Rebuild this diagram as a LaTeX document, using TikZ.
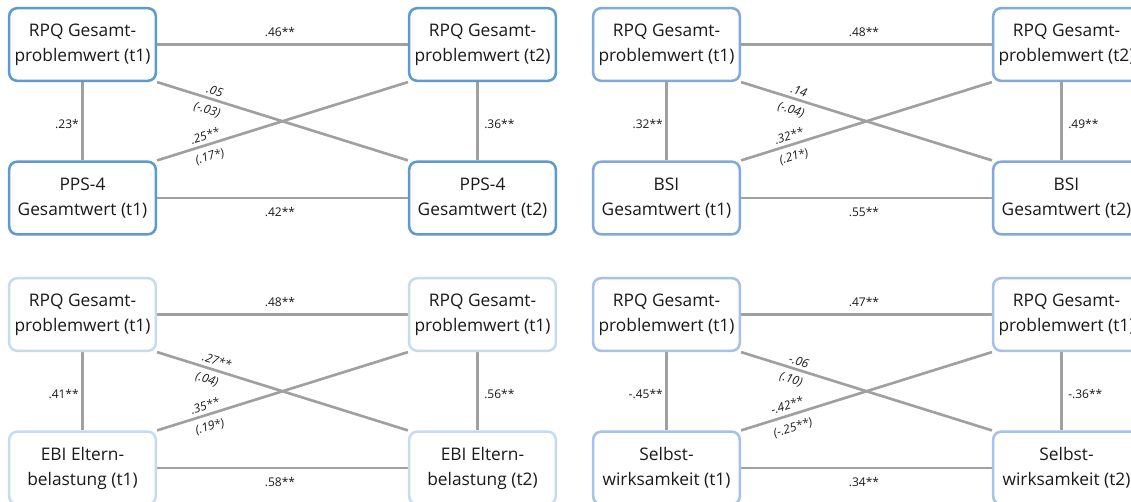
\documentclass[tikz,border=0pt]{standalone}
\usepackage{fontspec}
\setmainfont{Open Sans}
\usetikzlibrary{backgrounds}
\definecolor{bcA}{HTML}{5B9BD0}
\definecolor{bcB}{HTML}{80AADB}
\definecolor{bcC}{HTML}{C8DAF0}
\definecolor{bcD}{HTML}{A5C3E6}
\definecolor{conn}{HTML}{A0A0A0}
\definecolor{txt}{HTML}{1A1A1A}
\begin{document}
\begin{tikzpicture}[x=0.75pt,y=-0.75pt,
  box/.style={draw=#1, line width=1.9pt, rounded corners=6pt, fill=white,
    minimum width=110pt, minimum height=54.5pt, inner sep=0pt, align=center,
    text=txt, font=\fontsize{13}{18.75}\selectfont},
  connline/.style={draw=conn, line width=2pt},
  lab/.style={inner sep=0pt, text=txt, font=\fontsize{9}{10}\selectfont},
  dlab/.style={inner sep=0pt, text=txt, font=\fontsize{9}{10}\selectfont\itshape}]
\useasboundingbox (0,0) rectangle (1131,502);

% ---------- Panel 1 ----------
\begin{scope}
\node[box=bcA] (p1a) at (82.5,44.5) {RPQ Gesamt-\\problemwert (t1)};
\node[box=bcA] (p1b) at (482.5,44.5) {RPQ Gesamt-\\problemwert (t2)};
\node[box=bcA] (p1c) at (82.5,198) {PPS-4\\Gesamtwert (t1)};
\node[box=bcA] (p1d) at (482.5,198) {PPS-4\\Gesamtwert (t2)};
\begin{pgfonlayer}{background}
\draw[connline] (p1a) -- (p1b);
\draw[connline] (p1c) -- (p1d);
\draw[connline] (p1a.south) -- (p1c.north);
\draw[connline] ([xshift=-4pt]p1b.south) -- ([xshift=-4pt]p1d.north);
\draw[connline] (p1a.south east) -- (p1d.north west);
\draw[connline] (p1c.north east) -- (p1b.south west);
\end{pgfonlayer}
\node[lab] (p1l1) at (280,32) {.46**};
\node[lab] (p1l2) at (280,212) {.42**};
\node[lab,anchor=east] (p1l3) at (79,124) {.23*};
\node[lab,anchor=west] (p1l4) at (484,124) {.36**};
\node[dlab,rotate=-17.3] (p1l5) at (215,91) {.05};
\node[dlab,rotate=-17.3] (p1l6) at (207,110) {(-.03)};
\node[dlab,rotate=17.3] (p1l7) at (205,136) {.25**};
\node[dlab,rotate=17.3] (p1l8) at (210,157) {(.17*)};
\end{scope}

% ---------- Panel 2 ----------
\begin{scope}[shift={(584,0)}]
\node[box=bcB] (p2a) at (82.5,44.5) {RPQ Gesamt-\\problemwert (t1)};
\node[box=bcB] (p2b) at (482.5,44.5) {RPQ Gesamt-\\problemwert (t2)};
\node[box=bcB] (p2c) at (82.5,198) {BSI\\Gesamtwert (t1)};
\node[box=bcB] (p2d) at (482.5,198) {BSI\\Gesamtwert (t2)};
\begin{pgfonlayer}{background}
\draw[connline] (p2a) -- (p2b);
\draw[connline] (p2c) -- (p2d);
\draw[connline] (p2a.south) -- (p2c.north);
\draw[connline] ([xshift=-4pt]p2b.south) -- ([xshift=-4pt]p2d.north);
\draw[connline] (p2a.south east) -- (p2d.north west);
\draw[connline] (p2c.north east) -- (p2b.south west);
\end{pgfonlayer}
\node[lab] (p2l1) at (280,32) {.48**};
\node[lab] (p2l2) at (280,212) {.55**};
\node[lab,anchor=east] (p2l3) at (79,124) {.32**};
\node[lab,anchor=west] (p2l4) at (484,124) {.49**};
\node[dlab,rotate=-17.3] (p2l5) at (215,91) {.14};
\node[dlab,rotate=-17.3] (p2l6) at (207,110) {(-.04)};
\node[dlab,rotate=17.3] (p2l7) at (205,136) {.32**};
\node[dlab,rotate=17.3] (p2l8) at (210,157) {(.21*)};
\end{scope}

% ---------- Panel 3 ----------
\begin{scope}[shift={(0,270)}]
\node[box=bcC] (p3a) at (82.5,44.5) {RPQ Gesamt-\\problemwert (t1)};
\node[box=bcC] (p3b) at (482.5,44.5) {RPQ Gesamt-\\problemwert (t1)};
\node[box=bcC] (p3c) at (82.5,198) {EBI Eltern-\\belastung (t1)};
\node[box=bcC] (p3d) at (482.5,198) {EBI Eltern-\\belastung (t2)};
\begin{pgfonlayer}{background}
\draw[connline] (p3a) -- (p3b);
\draw[connline] (p3c) -- (p3d);
\draw[connline] (p3a.south) -- (p3c.north);
\draw[connline] ([xshift=-4pt]p3b.south) -- ([xshift=-4pt]p3d.north);
\draw[connline] (p3a.south east) -- (p3d.north west);
\draw[connline] (p3c.north east) -- (p3b.south west);
\end{pgfonlayer}
\node[lab] (p3l1) at (280,32) {.48**};
\node[lab] (p3l2) at (280,212) {.58**};
\node[lab,anchor=east] (p3l3) at (79,124) {.41**};
\node[lab,anchor=west] (p3l4) at (484,124) {.56**};
\node[dlab,rotate=-17.3] (p3l5) at (217,91) {.27**};
\node[dlab,rotate=-17.3] (p3l6) at (207,110) {(.04)};
\node[dlab,rotate=17.3] (p3l7) at (205,136) {.35**};
\node[dlab,rotate=17.3] (p3l8) at (210,157) {(.19*)};
\end{scope}

% ---------- Panel 4 ----------
\begin{scope}[shift={(584,270)}]
\node[box=bcD] (p4a) at (82.5,44.5) {RPQ Gesamt-\\problemwert (t1)};
\node[box=bcD] (p4b) at (482.5,44.5) {RPQ Gesamt-\\problemwert (t1)};
\node[box=bcD] (p4c) at (82.5,198) {Selbst-\\wirksamkeit (t1)};
\node[box=bcD] (p4d) at (482.5,198) {Selbst-\\wirksamkeit (t2)};
\begin{pgfonlayer}{background}
\draw[connline] (p4a) -- (p4b);
\draw[connline] (p4c) -- (p4d);
\draw[connline] (p4a.south) -- (p4c.north);
\draw[connline] ([xshift=-4pt]p4b.south) -- ([xshift=-4pt]p4d.north);
\draw[connline] (p4a.south east) -- (p4d.north west);
\draw[connline] (p4c.north east) -- (p4b.south west);
\end{pgfonlayer}
\node[lab] (p4l1) at (280,32) {.47**};
\node[lab] (p4l2) at (280,212) {.34**};
\node[lab,anchor=east] (p4l3) at (79,124) {-.45**};
\node[lab,anchor=west] (p4l4) at (484,124) {-.36**};
\node[dlab,rotate=-17.3] (p4l5) at (215,91) {-.06};
\node[dlab,rotate=-17.3] (p4l6) at (207,110) {(.10)};
\node[dlab,rotate=17.3] (p4l7) at (203,135) {-.42**};
\node[dlab,rotate=17.3] (p4l8) at (209,158) {(-.25**)};
\end{scope}
\end{tikzpicture}
\end{document}
